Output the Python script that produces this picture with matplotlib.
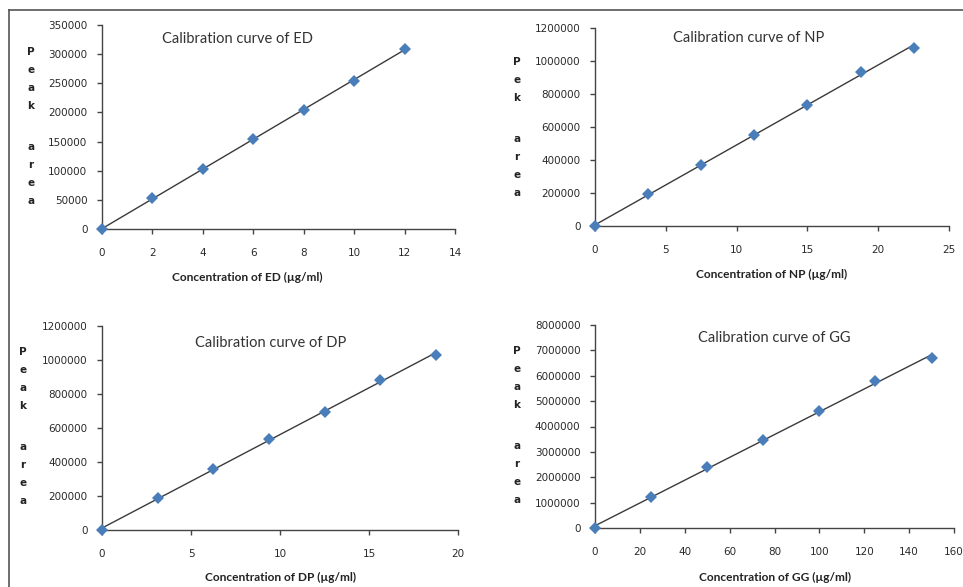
import numpy as np
import matplotlib
matplotlib.use("Agg")
from matplotlib import pyplot as plt
from matplotlib.lines import Line2D

W, H = 963, 587

# calibration data
ed_conc = [0, 2, 4, 6, 8, 10, 12]
ed_area = [0, 52500, 103500, 154000, 204500, 254500, 309000]

np_conc = [0, 3.75, 7.5, 11.25, 15, 18.75, 22.5]
np_area = [0, 192000, 372000, 550000, 733000, 935000, 1081000]

dp_conc = [0, 3.125, 6.25, 9.375, 12.5, 15.625, 18.75]
dp_area = [0, 188000, 361000, 533000, 696000, 880000, 1031000]

gg_conc = [0, 25, 50, 75, 100, 125, 150]
gg_area = [0, 1235000, 2390000, 3456000, 4625000, 5795000, 6700000]

panels = [
    dict(name="ED", x=ed_conc, y=ed_area, xmax=14, xstep=2, ymax=350000, ystep=50000,
         box=(102, 455, 25, 229), title_xy=(237, 39), ylab="Peak", ylab_xy=(31, 52),
         xlab_xy=(247, 277)),
    dict(name="NP", x=np_conc, y=np_area, xmax=25, xstep=5, ymax=1200000, ystep=200000,
         box=(595, 949, 28, 226), title_xy=(749, 38), ylab="Pek", ylab_xy=(517, 62),
         xlab_xy=(772, 274)),
    dict(name="DP", x=dp_conc, y=dp_area, xmax=20, xstep=5, ymax=1200000, ystep=200000,
         box=(102, 458, 326, 530), title_xy=(271, 343), ylab="Peak", ylab_xy=(23, 352),
         xlab_xy=(281, 577)),
    dict(name="GG", x=gg_conc, y=gg_area, xmax=160, xstep=20, ymax=8000000, ystep=1000000,
         box=(595, 954, 325, 528), title_xy=(774, 338), ylab="Peak", ylab_xy=(517, 351),
         xlab_xy=(775, 577)),
]

fig = plt.figure(figsize=(W / 100, H / 100), dpi=100)


def fx(px):
    return px / W


def fy(py):
    return 1 - py / H


# outer frame (runs off the right and bottom edges)
fig.add_artist(Line2D([fx(9), fx(9)], [fy(10), -0.1], color="#555555", lw=1.2))
fig.add_artist(Line2D([fx(9), 1.1], [fy(10), fy(10)], color="#555555", lw=1.2))

for p in panels:
    l, r, t, b = p["box"]
    ax = fig.add_axes([fx(l), fy(b), fx(r) - fx(l), fy(t) - fy(b)])

    x = np.array(p["x"], dtype=float)
    y = np.array(p["y"], dtype=float)
    k, c = np.polyfit(x, y, 1)
    xs = np.array([0, x.max()])
    ax.plot(xs, k * xs + c, color="#3a3a3a", lw=1.0, zorder=2)
    ax.plot(x, y, "D", color="#4a7ebb", markersize=6.5, markeredgewidth=0, zorder=3, clip_on=False)

    ax.set_xlim(0, p["xmax"])
    ax.set_ylim(0, p["ymax"])
    ax.set_xticks(np.arange(0, p["xmax"] + p["xstep"] / 2, p["xstep"]))
    ax.set_yticks(np.arange(0, p["ymax"] + p["ystep"] / 2, p["ystep"]))
    ax.xaxis.set_major_formatter(matplotlib.ticker.FuncFormatter(lambda v, _: f"{v:g}"))
    ax.yaxis.set_major_formatter(matplotlib.ticker.FuncFormatter(lambda v, _: f"{v:.0f}"))

    for s in ("top", "right"):
        ax.spines[s].set_visible(False)
    for s in ("left", "bottom"):
        ax.spines[s].set_color("#444444")
        ax.spines[s].set_linewidth(1.0)
    ax.tick_params(axis="both", direction="out", length=3.5, width=1.0, color="#444444",
                   labelsize=7.5, labelcolor="#2a2a2a")
    ax.tick_params(axis="x", pad=10)
    ax.tick_params(axis="y", pad=7)
    ax.patch.set_alpha(0)

    fig.text(fx(p["title_xy"][0]), fy(p["title_xy"][1]), f"Calibration curve of {p['name']}",
             ha="center", va="center", fontsize=10.5, family="Lato", color="#333333")
    fig.text(fx(p["xlab_xy"][0]), fy(p["xlab_xy"][1]), f"Concentration of {p['name']} (\u00b5g/ml)",
             ha="center", va="center", fontsize=8.6, family="Lato", weight="bold", color="#222222")

    # stacked letters of "Peak area"
    x0, y0 = p["ylab_xy"]
    step = 18
    letters = list(p["ylab"]) + [None] + list("area")
    pos = 0.0
    for ch in letters:
        if ch is None:
            pos += 1.3
            continue
        fig.text(fx(x0), fy(y0 + pos * step), ch, ha="center", va="center",
                 fontsize=7.5, family="DejaVu Sans", weight="bold", color="#222222")
        pos += 1

fig.savefig("out.png", dpi=100)
